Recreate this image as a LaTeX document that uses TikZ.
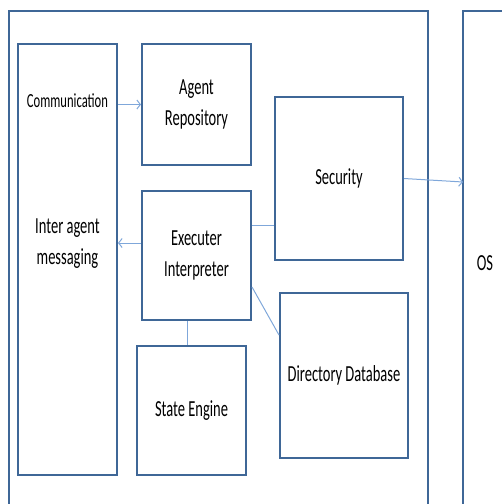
\documentclass[tikz,border=0pt]{standalone}
\usepackage{fontspec}
\setmainfont{Carlito}[FakeStretch=0.63]
\usepackage{xcolor}
\usetikzlibrary{arrows.meta}
\definecolor{boxblue}{HTML}{3F6797}
\definecolor{linkblue}{HTML}{7FA7DA}

\begin{document}
\begin{tikzpicture}[x=1pt,y=-1pt,
    blk/.style={draw=boxblue,line width=2pt,inner sep=0pt,align=center,font=\fontsize{23}{31}\selectfont},
    lbl/.style={inner sep=0pt,align=center,font=\fontsize{23}{31}\selectfont},
    link/.style={linkblue,line width=1pt},
    arr/.style={link,-{Straight Barb[length=3.5pt,width=9pt]}}]
      \useasboundingbox (0,0) rectangle (502,504);
      \draw[boxblue,line width=2pt] (9,506) -- (9,11) -- (428,11) -- (428,506);
      \draw[boxblue,line width=2pt] (463,506) -- (463,11) -- (506,11);
      \node[lbl] (os) at (485,263) {OS};
      \coordinate (osin) at (463,182);
      \node[blk,minimum width=99pt,minimum height=431pt] (msg) at (67.5,259.5) {};
      \node[lbl,font=\fontsize{20}{24}\selectfont] (comm) at (67.5,101) {Communication};
      \node[lbl] (inter) at (67.5,244) {Inter agent\\messaging};
      \node[blk,minimum width=109pt,minimum height=121pt] (repo) at (196.5,104.5) {Agent\\Repository};
      \node[blk,minimum width=109pt,minimum height=129pt] (exec) at (196.5,255.5) {Executer\\Interpreter};
      \node[blk,minimum width=109pt,minimum height=129pt] (state) at (191.5,410.5) {State Engine};
      \node[blk,minimum width=128pt,minimum height=163pt] (sec) at (339,178.5) {Security};
      \node[blk,minimum width=128pt,minimum height=165pt] (dir) at (344,375.5) {Directory Database};
      \draw[arr] (msg.east |- repo.west) -- (repo.west);
      \draw[arr] ([yshift=12.5pt]exec.west) coordinate (e1) -- (msg.east |- e1);
      \draw[link] ([yshift=30pt]exec.east) coordinate (e2) -- (sec.west |- e2);
      \draw[link] ([yshift=-31.5pt]exec.east) -- ([yshift=40.5pt]dir.west);
      \draw[link] ([xshift=-9.5pt]exec.south) coordinate (e3) -- (state.north -| e3);
      \draw[arr] (sec.east) -- (osin);
\end{tikzpicture}
\end{document}
